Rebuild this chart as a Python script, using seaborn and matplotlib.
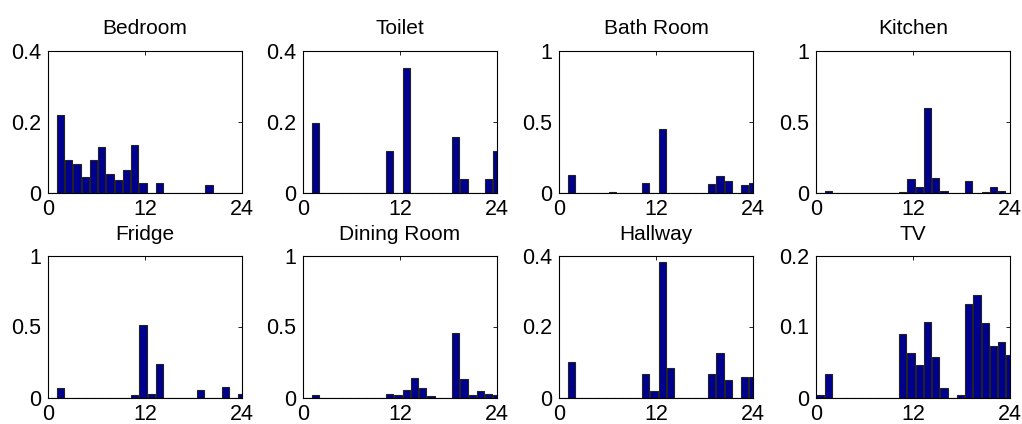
import numpy as np
import pandas as pd
import matplotlib
matplotlib.use("Agg")
import matplotlib.pyplot as plt
import seaborn as sns

# 24 histogram bins over the day (hour of activity)
bin_edges = np.linspace(0, 24.5, 25)
bin_centers = (bin_edges[:-1] + bin_edges[1:]) / 2

rooms = ["Bedroom", "Toilet", "Bath Room", "Kitchen",
         "Fridge", "Dining Room", "Hallway", "TV"]

bedroom = [0, .219, .092, .079, .043, .092, .128, .051, .036, .064, .135, .028,
           0, .028, 0, 0, 0, 0, 0, .022, 0, 0, 0, 0]
toilet = [0, .195, 0, 0, 0, 0, 0, 0, 0, 0, .117, 0,
          .350, 0, 0, 0, 0, 0, .156, .039, 0, 0, .039, .117]
bathroom = [0, .122, 0, 0, 0, 0, .005, 0, 0, 0, .066, 0,
            .445, 0, 0, 0, 0, 0, .059, .115, .082, 0, .054, .066]
kitchen = [0, .014, 0, 0, 0, 0, 0, 0, 0, 0, .004, .096,
           .042, .595, .104, .012, 0, 0, .082, 0, .004, .038, .014, 0]
fridge = [0, .065, 0, 0, 0, 0, 0, 0, 0, 0, .016, .514,
          .028, .233, 0, 0, 0, 0, .053, 0, 0, .077, 0, .028]
dining = [0, .016, 0, 0, 0, 0, 0, 0, 0, 0, .023, .016,
          .056, .140, .067, .012, 0, 0, .451, .128, .016, .047, .023, .016]
hallway = [0, .100, 0, 0, 0, 0, 0, 0, 0, 0, .067, .017,
           .381, .083, 0, 0, 0, 0, .067, .125, .050, 0, .059, .059]
tv = [.004, .033, 0, 0, 0, 0, 0, 0, 0, 0, .090, .062,
      .046, .107, .057, .013, 0, .004, .132, .144, .105, .073, .078, .060]

values = [bedroom, toilet, bathroom, kitchen, fridge, dining, hallway, tv]
ymax = [0.4, 0.4, 1, 1, 1, 1, 0.4, 0.2]
yticklabels = {0.4: ["0", "0.2", "0.4"], 1: ["0", "0.5", "1"], 0.2: ["0", "0.1", "0.2"]}

df = pd.concat([pd.DataFrame({"room": r, "hour": bin_centers, "p": v})
                for r, v in zip(rooms, values)], ignore_index=True)

sns.set_style("white")
plt.rcParams["font.family"] = ["Liberation Sans", "DejaVu Sans"]

fig = plt.figure(figsize=(10.22, 4.24), dpi=100)
lefts = [48, 303, 559, 816]
w, h = 194 / 1022, 142 / 424
bottoms = [1 - 192.5 / 424, 1 - 397.5 / 424]

for i, room in enumerate(rooms):
    r, c = divmod(i, 4)
    ax = fig.add_axes([lefts[c] / 1022, bottoms[r], w, h])
    sub = df[df["room"] == room]
    sns.barplot(data=sub, x="hour", y="p", native_scale=True, errorbar=None,
                color="#00008f", saturation=1, edgecolor="#222222",
                linewidth=0.8, width=0.88, ax=ax)
    ym = ymax[i]
    ax.set_xlim(0, 24)
    ax.set_ylim(0, ym)
    ax.set_xticks([0, 12, 24])
    ax.set_xticklabels(["0", "12", "24"])
    ax.set_yticks([0, ym / 2, ym])
    ax.set_yticklabels(yticklabels[ym])
    ax.set_xlabel("")
    ax.set_ylabel("")
    ax.set_title(room, fontsize=15, pad=12 if r == 0 else 11, color="black")
    ax.tick_params(direction="in", length=3, width=0.6, labelsize=15.5,
                   top=True, right=True, pad=5, colors="black")
    for s in ax.spines.values():
        s.set_color("black")
        s.set_linewidth(0.8)

fig.savefig("out.png", dpi=100)
